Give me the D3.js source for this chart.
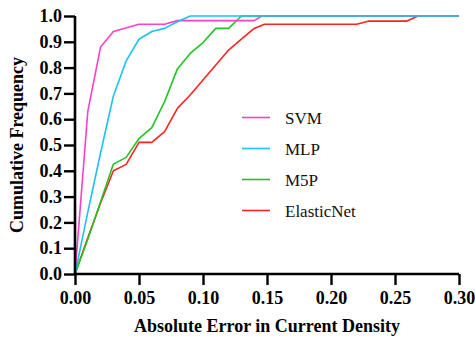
<!DOCTYPE html>
<html><head><meta charset="utf-8">
<script src="https://cdn.jsdelivr.net/npm/d3@7"></script>
<style>html,body{margin:0;padding:0;background:#fff;}svg{display:block;}</style>
</head><body>
<script>
const seriesNames = ["SVM", "MLP", "M5P", "ElasticNet"];
const seriesColors = ["#ff3fc6", "#1cc3ef", "#22c422", "#ff2222"];
const svmX = [0, 0.01, 0.02, 0.03, 0.05, 0.07, 0.08, 0.14, 0.146, 0.30];
const svmY = [0, 0.63, 0.88, 0.94, 0.968, 0.968, 0.982, 0.982, 1.0, 1.0];
const mlpX = [0, 0.01, 0.02, 0.03, 0.04, 0.05, 0.06, 0.07, 0.08, 0.09, 0.30];
const mlpY = [0, 0.24, 0.47, 0.69, 0.826, 0.91, 0.94, 0.952, 0.978, 1.0, 1.0];
const m5pX = [0, 0.01, 0.02, 0.03, 0.04, 0.05, 0.06, 0.07, 0.08, 0.09, 0.10, 0.11, 0.12, 0.13, 0.30];
const m5pY = [0, 0.135, 0.28, 0.426, 0.452, 0.525, 0.567, 0.668, 0.795, 0.855, 0.897, 0.952, 0.952, 1.0, 1.0];
const enX = [0, 0.01, 0.02, 0.03, 0.04, 0.05, 0.06, 0.07, 0.08, 0.09, 0.10, 0.11, 0.12, 0.13, 0.14, 0.148, 0.22, 0.229, 0.259, 0.268, 0.30];
const enY = [0, 0.14, 0.275, 0.40, 0.425, 0.51, 0.51, 0.552, 0.642, 0.694, 0.752, 0.81, 0.868, 0.91, 0.952, 0.968, 0.968, 0.98, 0.98, 1.0, 1.0];
const xTicks = [0, 0.05, 0.10, 0.15, 0.20, 0.25, 0.30];
const yTicks = [0, 0.1, 0.2, 0.3, 0.4, 0.5, 0.6, 0.7, 0.8, 0.9, 1.0];
const xTitle = "Absolute Error in Current Density";
const yTitle = "Cumulative Frequency";

const W = 475, H = 337;
const svg = d3.select("body").append("svg").attr("width", W).attr("height", H);
const x = d3.scaleLinear().domain([0, 0.30]).range([75, 459]);
const y = d3.scaleLinear().domain([0, 1.0]).range([274, 16]);

const allSeries = [
  {name: seriesNames[0], color: seriesColors[0], xs: svmX, ys: svmY},
  {name: seriesNames[1], color: seriesColors[1], xs: mlpX, ys: mlpY},
  {name: seriesNames[2], color: seriesColors[2], xs: m5pX, ys: m5pY},
  {name: seriesNames[3], color: seriesColors[3], xs: enX, ys: enY}
];
const line = d3.line().x(d => x(d[0])).y(d => y(d[1]));
const drawOrder = [3, 2, 0, 1];
drawOrder.forEach(i => {
  const s = allSeries[i];
  svg.append("path").datum(s.xs.map((v, k) => [v, s.ys[k]]))
    .attr("d", line).attr("fill", "none").attr("stroke", s.color)
    .attr("stroke-width", 1.6).attr("stroke-linejoin", "round");
});

const font = "'Liberation Serif','Times New Roman',serif";
const xAxis = svg.append("g").attr("transform", "translate(0,274)")
  .call(d3.axisBottom(x).tickValues(xTicks).tickFormat(d3.format(".2f")).tickSize(11).tickPadding(6));
const yAxis = svg.append("g").attr("transform", "translate(75,0)")
  .call(d3.axisLeft(y).tickValues(yTicks).tickFormat(d3.format(".1f")).tickSize(11).tickPadding(2));
[xAxis, yAxis].forEach(g => {
  g.attr("font-family", font).attr("font-size", 18).attr("font-weight", "bold");
  g.select(".domain").attr("stroke", "#000").attr("stroke-width", 2.6);
  g.selectAll(".tick line").attr("stroke", "#000").attr("stroke-width", 2.4);
  g.selectAll(".tick text").attr("fill", "#000").style("font-family", font)
    .style("font-weight", "bold").style("font-size", "18px");
});
xAxis.select(".domain").attr("d", "M75,0H459");
yAxis.select(".domain").attr("d", "M0,16V274");

svg.append("text").attr("x", 267).attr("y", 332).attr("text-anchor", "middle")
  .style("font-family", font).style("font-weight", "bold").style("font-size", "18px")
  .text(xTitle);
svg.append("text").attr("transform", "translate(23,145) rotate(-90)").attr("text-anchor", "middle")
  .style("font-family", font).style("font-weight", "bold").style("font-size", "18px")
  .text(yTitle);

const lg = svg.append("g");
allSeries.forEach((s, i) => {
  const ly = 117.5 + i * 31;
  lg.append("line").attr("x1", 242).attr("x2", 270).attr("y1", ly).attr("y2", ly)
    .attr("stroke", s.color).attr("stroke-width", 1.6);
  lg.append("text").attr("x", 285).attr("y", ly + 6)
    .style("font-family", font).style("font-size", "17px").attr("fill", "#111").text(s.name);
});
</script>
</body></html>
